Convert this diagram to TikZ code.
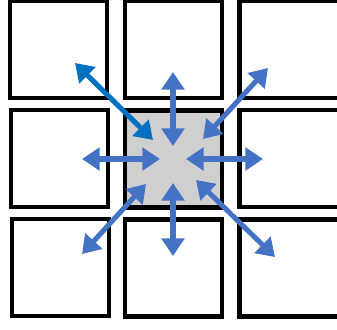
\documentclass[tikz,border=0pt]{standalone}
\usetikzlibrary{arrows.meta}
\definecolor{arrowblue}{HTML}{4472C4}
\definecolor{deepblue}{HTML}{0070C0}
\definecolor{cellgray}{HTML}{D0CFD0}
\tikzset{
  cell/.style={
    rectangle,
    draw=black,
    line width=3.9pt,
    fill=white,
    inner sep=0pt,
    minimum size=2.91cm
  },
  edgecell/.style={cell,minimum width=3.6cm},
  hub/.style={cell,fill=cellgray},
  flow/.style={{Triangle[length=15pt,width=19pt]}-{Triangle[length=15pt,width=19pt]},line width=4.3pt,draw=arrowblue},
  strongflow/.style={flow,draw=deepblue}
}

\begin{document}
\begin{tikzpicture}[x=0.03cm,y=-0.03cm]
    \useasboundingbox (0,0) rectangle (337,329);
    \clip (0,0) rectangle (337,329);
    % grid of cells
    \node[cell] (nw) at (58.5,49.5) {};
    \node[cell] (n) at (173.5,49.5) {};
    \node[edgecell] (ne) at (299.5,49.5) {};
    \node[cell] (w) at (59.5,158.5) {};
    \node[hub] (c) at (173.5,159) {};
    \node[edgecell] (e) at (299.5,158.5) {};
    \node[cell] (sw) at (60.5,267.5) {};
    \node[cell] (s) at (173.5,268) {};
    \node[edgecell] (se) at (299.5,268) {};

    % arrow ends
    \coordinate (nwout) at (75,63);
    \coordinate (nwin) at (153,140);
    \coordinate (nout) at (173,72);
    \coordinate (nin) at (173,146);
    \coordinate (neout) at (268,68);
    \coordinate (nein) at (203,139);
    \coordinate (wout) at (82,159);
    \coordinate (win) at (160,159);
    \coordinate (eout) at (263,159);
    \coordinate (ein) at (186,159);
    \coordinate (swout) at (82,254);
    \coordinate (swin) at (146,184);
    \coordinate (sout) at (173,256);
    \coordinate (sin) at (173,183);
    \coordinate (seout) at (275,257);
    \coordinate (sein) at (196,180);

    \draw[strongflow] (nwout) -- (nwin);
    \foreach \d in {n,ne,w,e,sw,s,se}
      \draw[flow] (\d out) -- (\d in);
\end{tikzpicture}
\end{document}
